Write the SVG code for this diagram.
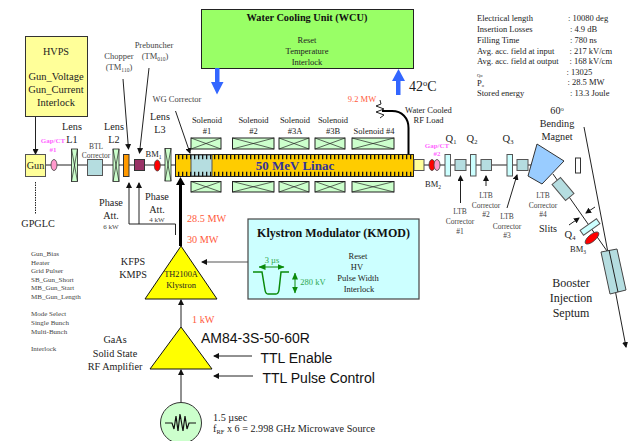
<svg xmlns="http://www.w3.org/2000/svg" width="630" height="441" viewBox="0 0 630 441">
<style>
text{font-family:"Liberation Serif","Times New Roman",serif;fill:#222;text-anchor:middle}
.s7{font-size:7px}.s75{font-size:7.500px}.s85{font-size:8.500px}.s10{font-size:10.200px}.s12{font-size:12px}
.l{text-anchor:start}
.g{fill:#444}
.red{fill:#ff5a3c}
.pink{fill:#ff66ff;font-weight:bold;font-size:7px}
.ar{font-family:"Liberation Sans",Arial,sans-serif;fill:#111;text-anchor:start;font-size:14px}
.line{fill:none;stroke:#222;stroke-width:1}
.sol{fill:#ccffcc;stroke:#222;stroke-width:1}
.sx{fill:none;stroke:#222;stroke-width:.7}
.q{fill:#ccffff;stroke:#555;stroke-width:1}
.c{fill:#b5dde0;stroke:#555;stroke-width:1}
.lens{fill:#ccffcc;stroke:#222;stroke-width:.8}
.tooth{stroke:#111;stroke-width:4.500;stroke-dasharray:1.300 2.700;fill:none}
</style>
<defs>
<marker id="a" markerWidth="6" markerHeight="6" refX="5" refY="3" orient="auto" markerUnits="userSpaceOnUse"><path d="M0 0L6 3L0 6Z" fill="#111"/></marker>
<marker id="g1" markerWidth="7" markerHeight="7" refX="6.500" refY="3.500" orient="auto" markerUnits="userSpaceOnUse"><path d="M0 .5L7 3.500L0 6.500Z" fill="#0a8a0a"/></marker>
<marker id="g2" markerWidth="7" markerHeight="7" refX="6.500" refY="3.500" orient="auto-start-reverse" markerUnits="userSpaceOnUse"><path d="M0 .5L7 3.500L0 6.500Z" fill="#0a8a0a"/></marker>
</defs>

<g id="connectors">
<path class="line" d="M46 165H553"/>
<path class="line" d="M35.500 116V154" marker-end="url(#a)"/>
<path class="line" d="M35.500 182V214" stroke-dasharray="1.500 1"/>
<path class="line" d="M123 79L128.500 149" marker-end="url(#a)"/>
<path class="line" d="M149 68L139.500 153" marker-end="url(#a)"/>
<path class="line" d="M175.500 111L190 153" marker-end="url(#a)"/>
<path class="line" d="M175.500 235V224H129V183" marker-end="url(#a)"/>
<path class="line" d="M139 224V183" marker-end="url(#a)"/>
<path d="M180.500 246V182" fill="none" stroke="#000" stroke-width="3"/>
<path d="M180.500 177L176 185H185Z" fill="#000"/>
<path class="line" d="M181 327V300" marker-end="url(#a)"/>
<path class="line" d="M181 403V370" marker-end="url(#a)"/>
<path d="M248 262H202" fill="none" stroke="#555" stroke-width="1.200" marker-end="url(#a)"/>
<path class="line" d="M252 356H214" marker-end="url(#a)"/>
<path class="line" d="M253 376H214" marker-end="url(#a)"/>
<path d="M408.500 154V128C408.500 118 402 111 392 111H382" fill="none" stroke="#000" stroke-width="2"/>
<path class="line" d="M380 100L381 104L376 106L384 109L376 112L384 115L380 118" stroke-width=".8"/>
<path class="line" d="M460.500 203V176" marker-end="url(#a)"/>
<path class="line" d="M486 186V176" marker-end="url(#a)"/>
<path class="line" d="M507 208L517 175" marker-end="url(#a)"/>
<path class="line" d="M553 174L607 251"/>
<path class="line" d="M584 127L626 347" marker-end="url(#a)"/>
<path class="line" d="M595 207L586 213" marker-end="url(#a)"/>
<path class="line" d="M569 225L579 218" marker-end="url(#a)"/>
</g>

<g id="hvps"><rect x="25.500" y="36.500" width="62" height="80" fill="#ffff99" stroke="#333" stroke-width="1"/>
<text x="56" y="55" class="s10">HVPS</text><text x="56" y="80" font-size="10.500">Gun_Voltage</text><text x="56" y="93" font-size="10.500">Gun_Current</text><text x="56" y="106" font-size="10.500">Interlock</text></g>
<g id="gun"><rect x="25.500" y="154.500" width="20" height="22" fill="#ffff99" stroke="#555"/><text x="35.500" y="169" class="s10">Gun</text></g>
<g id="gap1"><ellipse cx="54" cy="165" rx="3" ry="5.500" fill="#ff99cc" stroke="#444" stroke-width=".8"/><text x="53" y="142.500" class="pink">Gap/CT</text><text x="53" y="152" class="pink">#1</text></g>
<g id="l1"><text x="72" y="130" class="s10">Lens</text><text x="72" y="143" class="s10">L1</text><rect x="71.500" y="149" width="6" height="32.500" class="lens"/><path class="sx" d="M71.500 149L77.500 181.500M77.500 149L71.500 181.500"/></g>
<g id="btl"><text x="96" y="148.500" class="s75 g">BTL</text><text x="96" y="157.500" class="s75 g">Corrector</text><rect x="87.500" y="159.500" width="15" height="16" class="c"/></g>
<g id="l2"><text x="114" y="130" class="s10">Lens</text><text x="114" y="143" class="s10">L2</text><rect x="113" y="149" width="6" height="32.500" class="lens"/><path class="sx" d="M113 149L119 181.500M119 149L113 181.500"/></g>
<g id="chopper"><text x="119" y="59" class="s85 g">Chopper</text><text x="119" y="70" class="s85 g">(TM<tspan font-size="5.500" dy="2">110</tspan><tspan dy="-2">)</tspan></text><rect x="123.500" y="154.500" width="5.500" height="22" fill="#ff9900" stroke="#333"/></g>
<g id="prebuncher"><text x="154" y="48" class="s85 g">Prebuncher</text><text x="155" y="59" class="s85 g">(TM<tspan font-size="5.500" dy="2">010</tspan><tspan dy="-2">)</tspan></text><rect x="134.500" y="159.500" width="10" height="11" fill="#993366" stroke="#333"/></g>
<g id="phase1"><text x="111" y="206" class="s10">Phase</text><text x="111" y="218.500" class="s10">Att.</text><text x="111" y="228.500" class="s7 g">6 kW</text></g>
<g id="phase2"><text x="157" y="200" class="s10">Phase</text><text x="157" y="213" class="s10">Att.</text><text x="157" y="221.500" class="s7 g">4 kW</text></g>
<g id="bm1"><text x="153.500" y="156.500" class="s85">BM<tspan font-size="5.500" dy="2">1</tspan></text><ellipse cx="157.300" cy="165.500" rx="3" ry="5.500" fill="#ff0000" stroke="#444" stroke-width=".8"/></g>
<g id="l3"><text x="160" y="120" class="s10">Lens</text><text x="160" y="133" class="s10">L3</text><rect x="165" y="148.500" width="6" height="32.500" class="lens"/><path class="sx" d="M165 148.500L171 181M171 148.500L165 181"/></g>
<text x="177" y="101.500" class="s85 g">WG Corrector</text>

<g id="linac"><rect x="175.500" y="154.500" width="238" height="22" fill="#ffcc00" stroke="#222"/>
<rect x="191" y="155" width="21" height="21" fill="#b5dde0" stroke="#555"/>
<path class="tooth" d="M178 157H413M178 174H413"/>
<text x="295" y="170" font-size="13" font-weight="bold" style="fill:#333399">50 MeV Linac</text></g>

<g id="sol1"><text x="207" y="123" class="s85">Solenoid</text><text x="207" y="134" class="s85">#1</text><rect x="191" y="138" width="30" height="11" class="sol"/><path class="sx" d="M191 138L221 149M221 138L191 149"/><rect x="191" y="181.500" width="30" height="10.500" class="sol"/><path class="sx" d="M191 181.500L221 192M221 181.500L191 192"/></g>
<g id="sol2"><text x="253.500" y="123" class="s85">Solenoid</text><text x="253.500" y="134" class="s85">#2</text><rect x="232.500" y="138" width="41.500" height="11" class="sol"/><path class="sx" d="M232.500 138L274 149M274 138L232.500 149"/><rect x="232.500" y="181.500" width="41.500" height="10.500" class="sol"/><path class="sx" d="M232.500 181.500L274 192M274 181.500L232.500 192"/></g>
<g id="sol3a"><text x="295" y="123" class="s85">Solenoid</text><text x="295" y="134" class="s85">#3A</text><rect x="279" y="138" width="30" height="11" class="sol"/><path class="sx" d="M279 138L309 149M309 138L279 149"/><rect x="279" y="181.500" width="30" height="10.500" class="sol"/><path class="sx" d="M279 181.500L309 192M309 181.500L279 192"/></g>
<g id="sol3b"><text x="333" y="123" class="s85">Solenoid</text><text x="333" y="134" class="s85">#3B</text><rect x="315" y="138" width="30" height="11" class="sol"/><path class="sx" d="M315 138L345 149M345 138L315 149"/><rect x="315" y="181.500" width="30" height="10.500" class="sol"/><path class="sx" d="M315 181.500L345 192M345 181.500L315 192"/></g>
<g id="sol4"><text x="374" y="134" class="s85">Solenoid #4</text><rect x="352" y="138" width="42" height="11" class="sol"/><path class="sx" d="M352 138L394 149M394 138L352 149"/><rect x="352" y="181.500" width="42" height="10.500" class="sol"/><path class="sx" d="M352 181.500L394 192M394 181.500L352 192"/></g>

<g id="endbox"><rect x="414" y="159.500" width="10" height="11" fill="#ffff99" stroke="#555"/></g>
<g id="bm2"><ellipse cx="432" cy="165" rx="3" ry="5.500" fill="#ff0000" stroke="#444" stroke-width=".8"/><text x="433" y="187" class="s85">BM<tspan font-size="5.500" dy="2">2</tspan></text></g>
<g id="gap2"><ellipse cx="437" cy="165" rx="3" ry="5.500" fill="#ff99cc" stroke="#444" stroke-width=".8"/><text x="437" y="147.500" class="pink">Gap/CT</text><text x="437" y="156" class="pink">#2</text></g>
<g id="q1"><text x="451" y="141.500" font-size="10.500">Q<tspan font-size="6.500" dy="2">1</tspan></text><rect x="445" y="154.500" width="5.500" height="21.500" class="q"/></g>
<g id="ltb1"><rect x="455" y="159.500" width="11" height="11" class="c"/><text x="460" y="214" class="s75 g">LTB</text><text x="460" y="223.500" class="s75 g">Corrector</text><text x="460" y="233.500" class="s75 g">#1</text></g>
<g id="q2"><text x="472" y="141.500" font-size="10.500">Q<tspan font-size="6.500" dy="2">2</tspan></text><rect x="470.500" y="154.500" width="5.500" height="21.500" class="q"/></g>
<g id="ltb2"><rect x="481" y="159.500" width="10.500" height="11" class="c"/><text x="486" y="198" class="s75 g">LTB</text><text x="486" y="207.500" class="s75 g">Corrector</text><text x="486" y="217" class="s75 g">#2</text></g>
<g id="q3"><text x="508" y="141.500" font-size="10.500">Q<tspan font-size="6.500" dy="2">3</tspan></text><rect x="507" y="154.500" width="5.500" height="21.500" class="q"/></g>
<g id="ltb3"><rect x="517" y="159.500" width="11" height="11" class="c"/><text x="507" y="219" class="s75 g">LTB</text><text x="507" y="229" class="s75 g">Corrector</text><text x="507" y="238" class="s75 g">#3</text></g>
<g id="magnet"><polygon points="537,144 564,161 542,184 528,176" fill="#99ccff" stroke="#333"/><text x="557" y="114" class="s10">60<tspan font-size="6.500" dy="-3">o</tspan></text><text x="557" y="127" class="s10">Bending</text><text x="557" y="139.500" class="s10">Magnet</text></g>
<rect id="slitbox" x="575.500" y="158" width="5" height="15" fill="#fff" stroke="#333"/>
<g id="ltb4"><rect x="-10.500" y="-5.500" width="21" height="11" class="c" transform="translate(563 189) rotate(50)"/><text x="543" y="198" class="s75 g">LTB</text><text x="543" y="207.500" class="s75 g">Corrector</text><text x="543" y="217" class="s75 g">#4</text></g>
<text x="548" y="232" class="s10">Slits</text>
<g id="q4"><rect x="-10" y="-3" width="20" height="6" class="q" transform="translate(590 227) rotate(-35)"/><text x="570" y="238" font-size="10.500">Q<tspan font-size="6.500" dy="2">4</tspan></text></g>
<g id="bm3"><ellipse cx="0" cy="0" rx="8.500" ry="3.500" transform="translate(592 238) rotate(-40)" fill="#ff0000" stroke="#444" stroke-width=".8"/><text x="578" y="251.500" class="s85">BM<tspan font-size="5.500" dy="2">3</tspan></text></g>
<g id="septum"><polygon points="601,252 617,249 626,290 610,294" fill="#b5dde0" stroke="#444"/><path class="line" d="M609 250L618 292"/><text x="571" y="287" class="s12">Booster</text><text x="571" y="302" class="s12">Injection</text><text x="571" y="317" class="s12">Septum</text></g>

<g id="wcu"><rect x="201.500" y="9.500" width="212" height="59" fill="#99ff66" stroke="#222"/><text x="307" y="21" font-size="10.300" font-weight="bold" style="fill:#111">Water Cooling Unit (WCU)</text><text x="307" y="43" class="s85">Reset</text><text x="307" y="54" class="s85">Temperature</text><text x="307" y="65" class="s85">Interlock</text></g>
<path id="cool-out" d="M215 68H219.500V82H223.500L217 94.500L211 82H215Z" fill="#3366ff"/>
<path id="cool-in" d="M396 95V81H392L398.500 69L405 81H400.500V95Z" fill="#3366ff"/>
<text x="409" y="91" class="l" font-size="14">42<tspan font-size="8.500" dy="-5">o</tspan><tspan dy="5">C</tspan></text>

<g id="specs">
<text class="l s85" x="477" y="21">Electrical length</text><text class="l s85" x="568" y="21">: 10080 deg</text>
<text class="l s85" x="477" y="32">Insertion Losses</text><text class="l s85" x="570" y="32">: 4.9 dB</text>
<text class="l s85" x="477" y="43">Filling Time</text><text class="l s85" x="570" y="43">: 780 ns</text>
<text class="l s85" x="477" y="54">Avg. acc. field at input</text><text class="l s85" x="569.500" y="54">: 217 kV/cm</text>
<text class="l s85" x="477" y="63.500">Avg. acc. field at output</text><text class="l s85" x="569.500" y="63.500">: 168 kV/cm</text>
<text class="l" font-size="4.500" x="477" y="77">Qo</text><text class="l s85" x="566.500" y="75">: 13025</text>
<text class="l s85" x="477" y="86">P<tspan font-size="4.500" dy="1">o</tspan></text><text class="l s85" x="567.500" y="85">: 28.5 MW</text>
<text class="l s85" x="477" y="96">Stored energy</text><text class="l s85" x="570" y="96">: 13.3 Joule</text>
</g>

<text x="38" y="227" class="s10">GPGLC</text>
<g id="gpglc-list">
<text class="l s7 g" x="31" y="256">Gun_Bias</text><text class="l s7 g" x="31" y="265">Heater</text><text class="l s7 g" x="31" y="273">Grid Pulser</text><text class="l s7 g" x="31" y="282">SB_Gun_Short</text><text class="l s7 g" x="31" y="290">MB_Gun_Start</text><text class="l s7 g" x="31" y="299">MB_Gun_Length</text>
<text class="l s7 g" x="31" y="316">Mode Select</text><text class="l s7 g" x="31" y="325">Single Bunch</text><text class="l s7 g" x="31" y="334">Multi-Bunch</text><text class="l s7 g" x="31" y="351">Interlock</text></g>
<text x="133" y="265" class="s10">KFPS</text><text x="133" y="278" class="s10">KMPS</text>
<text x="115" y="343" class="s10">GaAs</text><text x="115" y="357" class="s10">Solid State</text><text x="115" y="369.500" class="s10">RF Amplifier</text>

<g id="klystron"><polygon points="181,246 145,299 217,299" fill="#ffff00" stroke="#111"/><text x="181" y="277" font-size="8.300">TH2100A</text><text x="181" y="288" font-size="8.500">Klystron</text></g>
<text x="187" y="221.500" class="s10 l red">28.5 MW</text><text x="187" y="243" class="s10 l red">30 MW</text>
<text x="192" y="322.500" class="s10 l red">1 kW</text>
<text x="362" y="102" class="s85 red">9.2 MW</text>
<text x="428.500" y="113" class="s85">Water Cooled</text><text x="428.500" y="123" class="s85">RF Load</text>

<g id="kmod"><rect x="248" y="219" width="171" height="80" fill="#ccffff" stroke="#444" stroke-width="1.200"/>
<text x="333.500" y="237" font-size="12" font-weight="bold" style="fill:#111">Klystron Modulator (KMOD)</text>
<text x="358" y="259" class="s85">Reset</text><text x="357" y="270" class="s85">HV</text><text x="358" y="281" class="s85">Pulse Width</text><text x="359" y="292" class="s85">Interlock</text>
<path d="M253 272H262L265 290C265.500 293 266 294 268 294H276C278 294 278.500 293 279 290L281 272H289" fill="none" stroke="#0a8a0a" stroke-width="1.500"/>
<path d="M259 267H284" fill="none" stroke="#0a8a0a" marker-start="url(#g2)" marker-end="url(#g1)"/>
<path d="M295 273V293" fill="none" stroke="#0a8a0a" marker-start="url(#g2)" marker-end="url(#g1)"/>
<text x="272" y="263" class="s85" style="fill:#2fa84f">3 µs</text><text x="313" y="285" class="s85" style="fill:#2fa84f">280 kV</text></g>

<g id="amp"><polygon points="181,327 150,369 212,369" fill="#ffff00" stroke="#111"/></g>
<text x="201" y="343" class="ar">AM84-3S-50-60R</text>
<text x="260.500" y="363" class="ar">TTL Enable</text>
<text x="262.500" y="383" class="ar">TTL Pulse Control</text>

<g id="source"><circle cx="181" cy="423" r="20.500" fill="#ccffcc" stroke="#333"/><path d="M165 423H172L174 429L176 416L178 431L180 414L183 431L185 416L187 429L189 423H196" fill="none" stroke="#111" stroke-width="1.200"/></g>
<text x="213" y="421" class="s10 l">1.5 µsec</text>
<text x="213" y="432" class="s10 l">f<tspan font-size="6.500" dy="2">RF</tspan><tspan dy="-2"> x 6 = 2.998 GHz Microwave Source</tspan></text>
</svg>
